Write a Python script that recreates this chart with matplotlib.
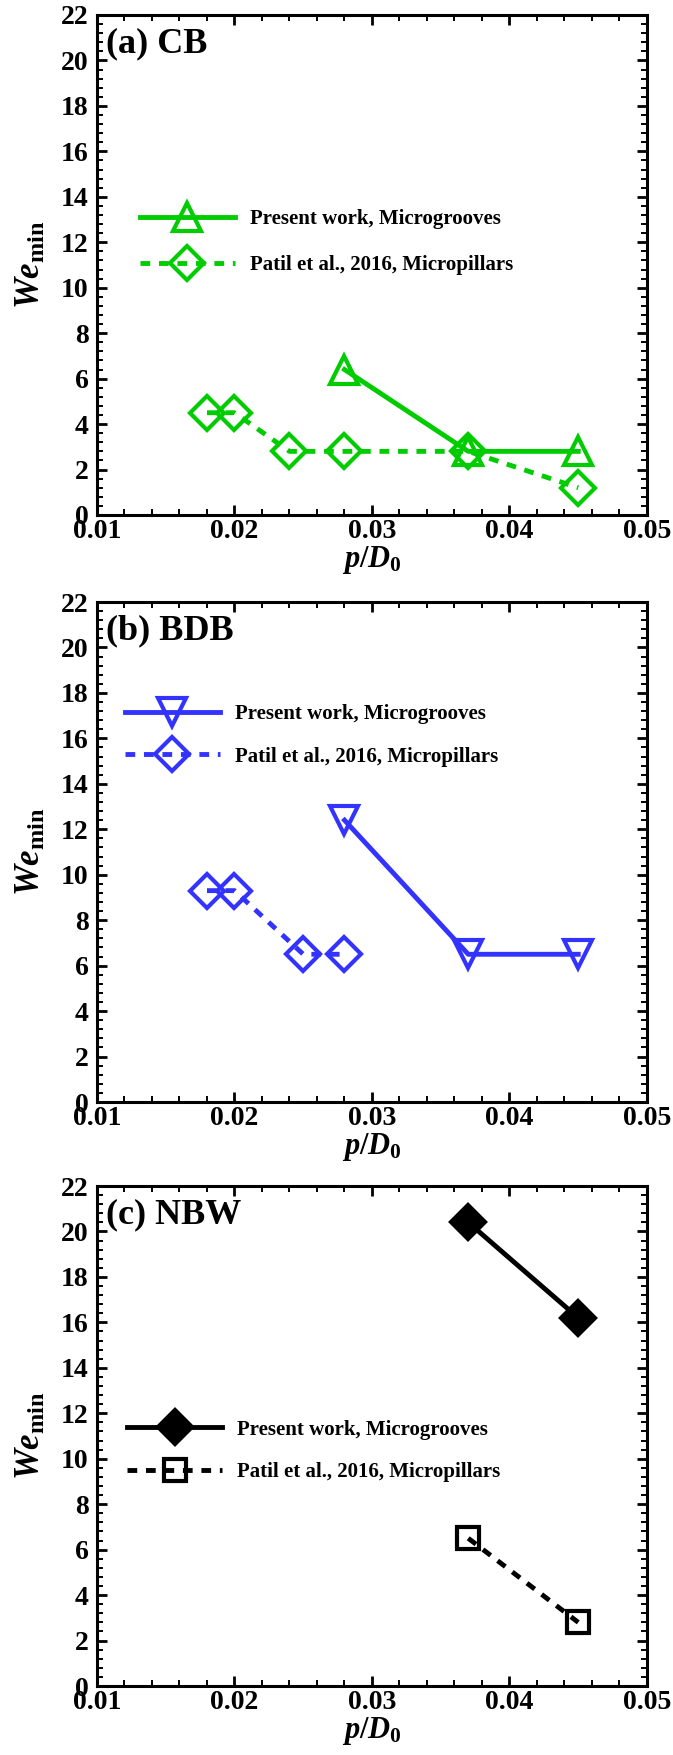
import matplotlib
matplotlib.use('Agg')
import matplotlib.pyplot as plt
from matplotlib.ticker import MultipleLocator, FormatStrFormatter

plt.rcParams['font.family'] = 'Liberation Serif'
plt.rcParams['font.weight'] = 'bold'
plt.rcParams['mathtext.fontset'] = 'custom'
plt.rcParams['mathtext.it'] = 'Liberation Serif:italic:bold'
plt.rcParams['mathtext.rm'] = 'Liberation Serif:bold'
plt.rcParams['mathtext.bf'] = 'Liberation Serif:bold'

# (a) CB
cb_grooves_x = [0.028, 0.037, 0.045]
cb_grooves_we = [6.4, 2.8, 2.8]
cb_pillars_x = [0.018, 0.020, 0.024, 0.028, 0.037, 0.045]
cb_pillars_we = [4.5, 4.5, 2.8, 2.8, 2.8, 1.2]

# (b) BDB
bdb_grooves_x = [0.028, 0.037, 0.045]
bdb_grooves_we = [12.4, 6.5, 6.5]
bdb_pillars_x = [0.018, 0.020, 0.025, 0.028]
bdb_pillars_we = [9.3, 9.3, 6.5, 6.5]

# (c) NBW
nbw_grooves_x = [0.037, 0.045]
nbw_grooves_we = [20.4, 16.2]
nbw_pillars_x = [0.037, 0.045]
nbw_pillars_we = [6.5, 2.8]

series_labels = ['Present work, Microgrooves', 'Patil et al., 2016, Micropillars']

green = '#00cc00'
blue = '#3333ff'
black = '#000000'
dashed = (0, (2.0, 1.8))

fig = plt.figure(figsize=(6.73, 17.55), dpi=100)
W, H = 673.0, 1755.0
ax_left, ax_width, ax_height = 97 / W, 550 / W, 500 / H
ax_tops = [15, 602, 1186]


def style_axes(ax):
    ax.set_xlim(0.01, 0.05)
    ax.set_ylim(0, 22)
    ax.xaxis.set_major_locator(MultipleLocator(0.01))
    ax.xaxis.set_minor_locator(MultipleLocator(0.002))
    ax.yaxis.set_major_locator(MultipleLocator(2))
    ax.yaxis.set_minor_locator(MultipleLocator(0.4))
    ax.xaxis.set_major_formatter(FormatStrFormatter('%.2f'))
    ax.yaxis.set_major_formatter(FormatStrFormatter('%d'))
    ax.tick_params(which='both', direction='in', top=True, right=True, labelsize=20)
    ax.tick_params(which='major', length=7, width=2)
    ax.tick_params(which='minor', length=4, width=1.4)
    ax.tick_params(axis='x', which='major', pad=3)
    ax.tick_params(axis='y', which='major', pad=6)
    for sp in ax.spines.values():
        sp.set_linewidth(2.2)
    ax.set_xlabel(r'$p/D_{\mathrm{0}}$', fontsize=22)
    ax.set_ylabel(r'$We_{\mathrm{min}}$', fontsize=25)
    ax.xaxis.set_label_coords(0.5, -0.058)
    ax.yaxis.set_label_coords(-0.089, 0.5)


axes = []
for top in ax_tops:
    ax = fig.add_axes([ax_left, 1 - (top + 500) / H, ax_width, ax_height])
    style_axes(ax)
    axes.append(ax)

line_kw = dict(lw=3.5, mew=3)
leg_kw = dict(frameon=False, fontsize=15, borderpad=0, borderaxespad=0,
              handlelength=4.55, handletextpad=0.72)

# (a) CB
ax = axes[0]
ax.plot(cb_grooves_x, cb_grooves_we, color=green, ls='-', marker='^', ms=20,
        mfc='none', label=series_labels[0], **line_kw)
ax.plot(cb_pillars_x, cb_pillars_we, color=green, ls=dashed, marker='D', ms=17,
        mfc='none', label=series_labels[1], **line_kw)
ax.text(0.016, 0.975, '(a) CB', transform=ax.transAxes, ha='left', va='top', fontsize=26)
ax.legend(loc='center left', bbox_to_anchor=(0.078, 0.546), labelspacing=1.25, **leg_kw)

# (b) BDB
ax = axes[1]
ax.plot(bdb_grooves_x, bdb_grooves_we, color=blue, ls='-', marker='v', ms=20,
        mfc='none', label=series_labels[0], **line_kw)
ax.plot(bdb_pillars_x, bdb_pillars_we, color=blue, ls=dashed, marker='D', ms=17,
        mfc='none', label=series_labels[1], **line_kw)
ax.text(0.016, 0.975, '(b) BDB', transform=ax.transAxes, ha='left', va='top', fontsize=26)
ax.legend(loc='center left', bbox_to_anchor=(0.051, 0.733), labelspacing=1.08, **leg_kw)

# (c) NBW
ax = axes[2]
ax.plot(nbw_grooves_x, nbw_grooves_we, color=black, ls='-', marker='D', ms=17,
        mfc=black, label=series_labels[0], **line_kw)
ax.plot(nbw_pillars_x, nbw_pillars_we, color=black, ls=dashed, marker='s', ms=16,
        mfc='none', label=series_labels[1], **line_kw)
ax.text(0.016, 0.975, '(c) NBW', transform=ax.transAxes, ha='left', va='top', fontsize=26)
ax.legend(loc='center left', bbox_to_anchor=(0.055, 0.47), labelspacing=1.08, **leg_kw)

fig.savefig('out.png', dpi=100)
